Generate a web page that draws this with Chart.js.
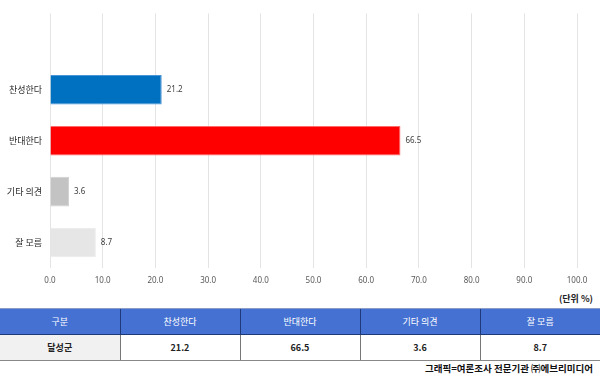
<!DOCTYPE html>
<html>
<head>
<meta charset="utf-8">
<script src="https://cdn.jsdelivr.net/npm/chart.js@4"></script>
<style>
  html, body { margin: 0; padding: 0; background: #fff; }
  body { width: 600px; height: 378px; overflow: hidden; font-family: "Noto Sans CJK KR", "Noto Sans", sans-serif; position: relative; }
  #wrap { position: absolute; left: 0; top: 0; width: 600px; height: 290px; }
  #unit { position: absolute; right: 7px; top: 292px; font-size: 9px; font-weight: bold; color: #222; }
  table { position: absolute; left: 0; top: 308px; width: 600px; border-collapse: collapse; table-layout: fixed; }
  th, td { height: 25px; padding: 0; text-align: center; font-size: 9px; }
  th { background: #4571d2; color: #fff; font-weight: normal; border-top: 1px solid #8a9cc4; border-left: 1px solid #1f3a7a; border-bottom: 1px solid #1f3a7a; }
  td { background: #fff; color: #222; font-weight: bold; border-left: 1px solid #777; border-bottom: 1px solid #888; }
  td.first { background: #f1f1f1; }
  th:first-child, td:first-child { border-left: none; }
  #src { position: absolute; right: 7px; top: 361px; font-size: 9.5px; font-weight: bold; color: #111; }
</style>
</head>
<body>
<div id="wrap"><canvas id="chart"></canvas></div>
<div id="unit">(단위 %)</div>
<table id="tbl"></table>
<div id="src">그래픽=여론조사 전문기관 ㈜에브리미디어</div>
<script>
// 데이터
const categories = ["", "찬성한다", "반대한다", "기타 의견", "잘 모름"];
const values = [null, 21.2, 66.5, 3.6, 8.7];
const barColors = ["#ffffff", "#0070c0", "#ff0000", "#c3c3c3", "#e6e6e6"];
const borderColors = ["#ffffff", "#4a95d6", "#ff6a6a", "#d0d0d0", "#ececec"];
const tableHeader = ["구분", "찬성한다", "반대한다", "기타 의견", "잘 모름"];
const tableRow = ["달성군", "21.2", "66.5", "3.6", "8.7"];

// 표 만들기
const tbl = document.getElementById("tbl");
tbl.innerHTML = "<tr>" + tableHeader.map(h => `<th>${h}</th>`).join("") + "</tr>" +
  "<tr>" + tableRow.map((v, i) => `<td class="${i === 0 ? 'first' : ''}">${v}</td>`).join("") + "</tr>";

// 막대 끝 값 표시
const valueLabels = {
  id: "valueLabels",
  afterDatasetsDraw(chart) {
    const ctx = chart.ctx;
    const meta = chart.getDatasetMeta(0);
    ctx.save();
    ctx.font = "8px 'Noto Sans', sans-serif";
    ctx.fillStyle = "#404040";
    ctx.textBaseline = "middle";
    meta.data.forEach((bar, i) => {
      if (values[i] == null) return;
      ctx.fillText(values[i].toFixed(1), bar.x + 5, bar.y);
    });
    ctx.restore();
  }
};

new Chart(document.getElementById("chart"), {
  type: "bar",
  data: {
    labels: categories,
    datasets: [{
      data: values,
      backgroundColor: barColors,
      borderColor: borderColors,
      borderWidth: 1,
      categoryPercentage: 1,
      barPercentage: 0.58
    }]
  },
  options: {
    indexAxis: "y",
    responsive: true,
    maintainAspectRatio: false,
    animation: false,
    layout: { padding: { top: 10, right: 23, left: 0, bottom: 0 } },
    plugins: { legend: { display: false }, tooltip: { enabled: false } },
    scales: {
      x: {
        min: 0, max: 100,
        ticks: {
          stepSize: 10,
          padding: 8,
          color: "#595959",
          font: { size: 8, family: "'Noto Sans', sans-serif" },
          callback: v => v.toFixed(1)
        },
        grid: { color: "#e4e4e4", drawTicks: false },
        border: { display: false },
        afterFit: s => { s.height = 22; }
      },
      y: {
        ticks: {
          padding: 8,
          color: "#2a2a2a",
          font: { size: 9, family: "'Noto Sans CJK KR', sans-serif" }
        },
        grid: { display: false, drawTicks: false },
        border: { display: false },
        afterFit: s => { s.width = 50; }
      }
    }
  },
  plugins: [valueLabels]
});
</script>
</body>
</html>
